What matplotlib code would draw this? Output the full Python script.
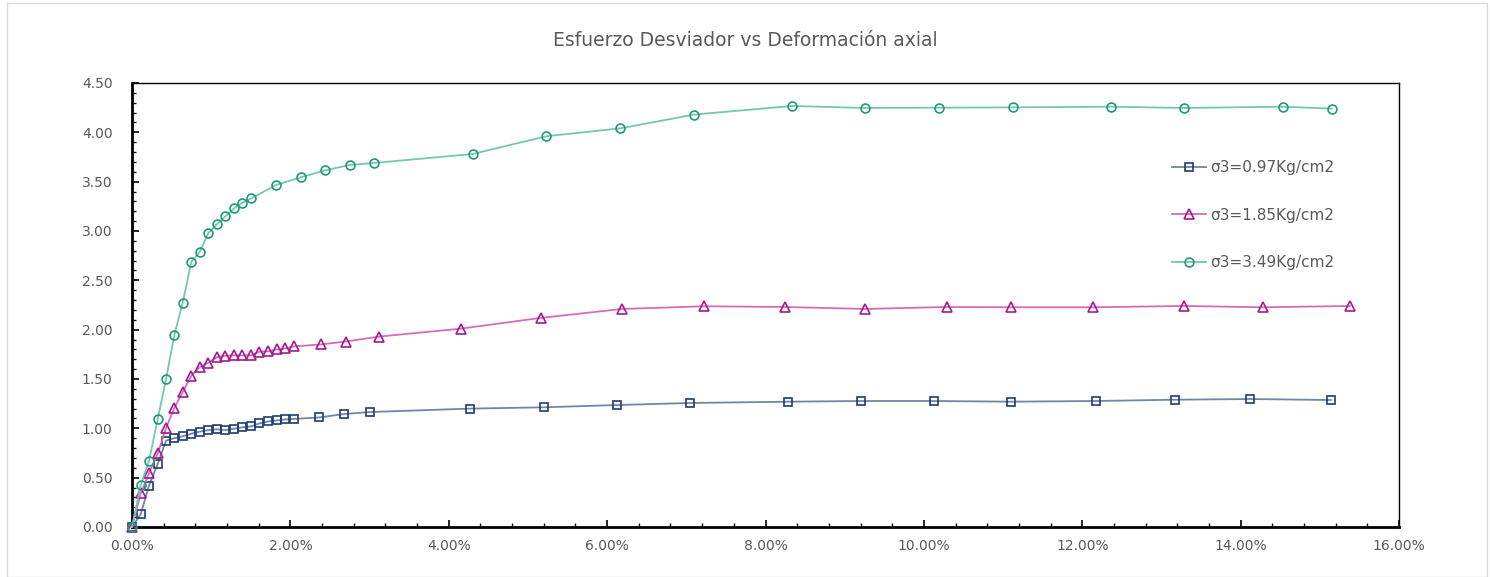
import matplotlib
matplotlib.use("Agg")
import matplotlib.pyplot as plt
from matplotlib.patches import Rectangle
from matplotlib.ticker import MultipleLocator, PercentFormatter, FormatStrFormatter

plt.rcParams['font.family'] = ['DejaVu Sans']

# deformacion axial (%) y esfuerzo desviador (Kg/cm2)
def1 = [0, 0.11, 0.215, 0.325, 0.43, 0.535, 0.64, 0.75, 0.855, 0.965,
        1.07, 1.18, 1.29, 1.395, 1.505, 1.61, 1.72, 1.83, 1.935, 2.04,
        2.36, 2.68, 3.0, 4.27, 5.2, 6.12, 7.05, 8.28, 9.2, 10.13,
        11.1, 12.17, 13.17, 14.12, 15.14]
esf1 = [0, 0.13, 0.42, 0.64, 0.875, 0.90, 0.92, 0.945, 0.966, 0.983,
        0.99, 0.983, 0.996, 1.01, 1.02, 1.05, 1.07, 1.08, 1.09, 1.095,
        1.11, 1.145, 1.165, 1.20, 1.213, 1.236, 1.257, 1.27, 1.277, 1.277,
        1.27, 1.277, 1.29, 1.297, 1.287]

def2 = [0, 0.11, 0.215, 0.325, 0.43, 0.535, 0.64, 0.75, 0.855, 0.965,
        1.07, 1.18, 1.29, 1.395, 1.505, 1.61, 1.72, 1.83, 1.935, 2.04,
        2.385, 2.70, 3.12, 4.15, 5.17, 6.19, 7.22, 8.24, 9.26, 10.29,
        11.10, 12.14, 13.28, 14.28, 15.38]
esf2 = [0, 0.34, 0.545, 0.745, 1.0, 1.21, 1.365, 1.535, 1.62, 1.665,
        1.72, 1.736, 1.74, 1.74, 1.74, 1.777, 1.78, 1.80, 1.81, 1.83,
        1.85, 1.88, 1.93, 2.01, 2.12, 2.21, 2.237, 2.23, 2.21, 2.23,
        2.227, 2.227, 2.24, 2.227, 2.24]

def3 = [0, 0.11, 0.215, 0.325, 0.43, 0.535, 0.64, 0.75, 0.855, 0.965,
        1.07, 1.18, 1.29, 1.395, 1.505, 1.82, 2.13, 2.44, 2.75, 3.06,
        4.30, 5.23, 6.165, 7.10, 8.33, 9.26, 10.19, 11.12, 12.36, 13.29,
        14.53, 15.15]
esf3 = [0, 0.426, 0.67, 1.095, 1.50, 1.946, 2.273, 2.69, 2.787, 2.98,
        3.068, 3.149, 3.23, 3.287, 3.33, 3.466, 3.544, 3.615, 3.669, 3.69,
        3.78, 3.96, 4.04, 4.18, 4.267, 4.247, 4.25, 4.253, 4.26, 4.247,
        4.26, 4.24]

labels = ["σ3=0.97Kg/cm2", "σ3=1.85Kg/cm2", "σ3=3.49Kg/cm2"]

gris = "#595959"

fig = plt.figure(figsize=(14.9, 5.77), dpi=100)
ax = fig.add_axes([132/1490, 1 - 527/577, (1399-132)/1490, (527-83)/577])

# borde del area del grafico
fig.patches.append(Rectangle((7/1490, 0), 1480/1490, 1 - 3/577, transform=fig.transFigure,
                             fill=False, edgecolor="#d9d9d9", linewidth=1))

series = [
    (def1, esf1, "s", "#6f87a6", "#1f3c6e", 6.0),
    (def2, esf2, "^", "#d36cc0", "#a3198f", 6.8),
    (def3, esf3, "o", "#74c7b0", "#1f9a7b", 6.4),
]
for (x, y, mk, lc, mc, ms), lab in zip(series, labels):
    ax.plot([v / 100 for v in x], y, color=lc, linewidth=1.3, marker=mk,
            markersize=ms, markerfacecolor="none", markeredgecolor=mc,
            markeredgewidth=1.2, label=lab, clip_on=False, zorder=3)

ax.set_xlim(0, 0.16)
ax.set_ylim(0, 4.5)
ax.xaxis.set_major_locator(MultipleLocator(0.02))
ax.xaxis.set_minor_locator(MultipleLocator(0.004))
ax.yaxis.set_major_locator(MultipleLocator(0.5))
ax.yaxis.set_minor_locator(MultipleLocator(0.1))
ax.xaxis.set_major_formatter(PercentFormatter(xmax=1, decimals=2))
ax.yaxis.set_major_formatter(FormatStrFormatter("%.2f"))

ax.tick_params(which="both", direction="in", colors="black", labelcolor=gris,
               labelsize=10, top=False, right=False)
ax.tick_params(which="major", length=5, width=1.2)
ax.tick_params(which="minor", length=3, width=1)
ax.tick_params(axis="x", pad=9)
ax.tick_params(axis="y", pad=14)

for s in ["left", "bottom"]:
    ax.spines[s].set_linewidth(2)
for s in ["top", "right"]:
    ax.spines[s].set_linewidth(1)

fig.text(0.5, 1 - 40/577, "Esfuerzo Desviador vs Deformación axial", ha="center",
         va="center", fontsize=13.5, color=gris)

ax.legend(loc="upper left", bbox_to_anchor=(0.816, 0.84), frameon=False,
          fontsize=11, labelcolor=gris, handlelength=2.2, handletextpad=0.3,
          labelspacing=2.12, borderaxespad=0)

fig.savefig("out.png", dpi=100)
